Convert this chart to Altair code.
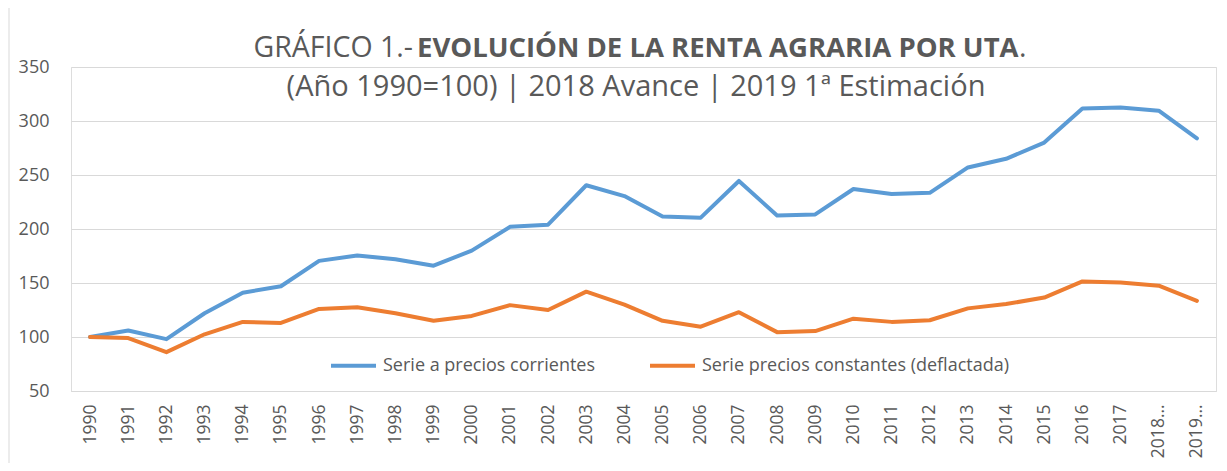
import altair as alt
import pandas as pd

years = ["1990", "1991", "1992", "1993", "1994", "1995", "1996", "1997", "1998", "1999",
         "2000", "2001", "2002", "2003", "2004", "2005", "2006", "2007", "2008", "2009",
         "2010", "2011", "2012", "2013", "2014", "2015", "2016", "2017", "2018…", "2019…"]

corrientes = [100, 106, 98, 122, 141, 147, 170.5, 175.5, 172, 166,
              180, 202, 204, 240.5, 230.5, 211.5, 210.5, 244.5, 212.5, 213.5,
              237, 232.5, 233.5, 257, 265, 280, 311.5, 312.5, 309.5, 284]

constantes = [100, 99, 86, 102.5, 114, 113, 126, 127.5, 122, 115,
              119.5, 129.5, 125, 142, 130, 115, 109.5, 123, 104.5, 105.5,
              117, 114, 115.5, 126.5, 130.5, 136.5, 151.5, 150.5, 147.5, 133.5]

series = ["Serie a precios corrientes", "Serie precios constantes (deflactada)"]
colors = ["#5B9BD5", "#ED7D31"]

title_normal = "GRÁFICO 1.-"
title_bold = "EVOLUCIÓN DE LA RENTA AGRARIA POR UTA"
title_end = "."
subtitle = "(Año 1990=100) | 2018 Avance | 2019 1ª Estimación"

FONT = "Open Sans"
GREY = "#595959"

rows = []
for y, a, b in zip(years, corrientes, constantes):
    rows.append({"year": y, "serie": series[0], "valor": a})
    rows.append({"year": y, "serie": series[1], "valor": b})
df = pd.DataFrame(rows)

W, H = 1145, 324

lines = alt.Chart(df).mark_line(strokeWidth=4, strokeJoin="round", strokeCap="round").encode(
    x=alt.X("year:O", sort=years, scale=alt.Scale(type="point", padding=0.5),
            axis=alt.Axis(title=None, labelAngle=-90, labelFontSize=17.5, labelColor=GREY,
                          labelFont=FONT, ticks=False, domain=True, domainColor="#d9d9d9",
                          labelPadding=13, grid=False)),
    y=alt.Y("valor:Q", scale=alt.Scale(domain=[50, 350], nice=False, zero=False),
            axis=alt.Axis(title=None, values=[50, 100, 150, 200, 250, 300, 350],
                          labelFontSize=18, labelColor=GREY, labelFont=FONT, ticks=False,
                          domain=False, labelPadding=22, grid=True, gridColor="#d9d9d9")),
    color=alt.Color("serie:N", scale=alt.Scale(domain=series, range=colors),
                    legend=alt.Legend(title=None, orient="none", legendX=258, legendY=274,
                                      direction="horizontal", symbolType="stroke",
                                      symbolSize=2025, symbolStrokeWidth=4,
                                      labelFontSize=18, labelColor=GREY, labelFont=FONT,
                                      labelLimit=0, columnPadding=46, labelOffset=5)),
    order=alt.Order("serie:N"),
)

tdf = pd.DataFrame({"a": [title_normal], "b": [title_bold], "c": [title_end], "s": [subtitle]})
base = alt.Chart(tdf)
t1 = base.mark_text(font=FONT, fontSize=28.5, color=GREY, align="right", baseline="alphabetic").encode(
    x=alt.value(342), y=alt.value(-10), text="a:N")
t2 = base.mark_text(font=FONT, fontSize=27.5, fontWeight="bold", color=GREY, align="left", baseline="alphabetic").encode(
    x=alt.value(346), y=alt.value(-10), text="b:N")
t3 = base.mark_text(font=FONT, fontSize=28.5, color=GREY, align="left", baseline="alphabetic").encode(
    x=alt.value(948), y=alt.value(-10), text="c:N")
t4 = base.mark_text(font=FONT, fontSize=29, color=GREY, align="center", baseline="alphabetic").encode(
    x=alt.value(565), y=alt.value(29), text="s:N")

border = base.mark_rule(color="#d9d9d9", strokeWidth=1).encode(
    x=alt.value(-62), y=alt.value(-59), y2=alt.value(H + 72))

chart = alt.layer(border, lines, t1, t2, t3, t4).properties(
    width=W, height=H,
    padding={"left": 63, "top": 59, "right": 3, "bottom": 72},
    autosize=alt.AutoSizeParams(type="none"),
).configure_view(stroke=None).configure(background="white")

chart.save("out.html", embed_options={"renderer": "svg", "actions": False})
